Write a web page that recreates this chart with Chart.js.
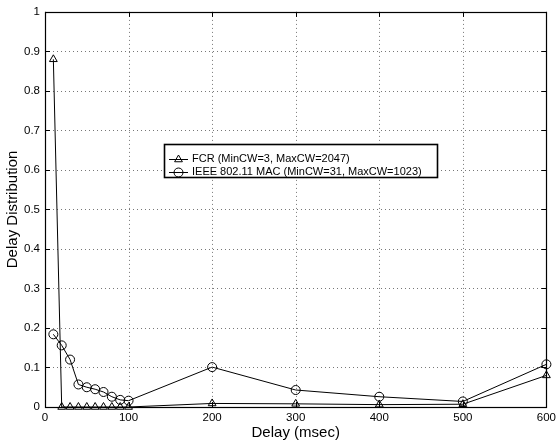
<!DOCTYPE html>
<html><head><meta charset="utf-8">
<script src="https://cdn.jsdelivr.net/npm/chart.js@4/dist/chart.umd.min.js"></script>
<style>html,body{margin:0;padding:0;background:#fff}#wrap{width:560px;height:445px}</style>
</head><body><div id="wrap"><canvas id="c" width="560" height="445"></canvas></div>
<script>
const delays = [10,20,30,40,50,60,70,80,90,100,200,300,400,500,600];
const fcrValues = [0.88,0,0,0,0,0,0,0,0,0,0.009,0.008,0.006,0.007,0.08];
const ieeeValues = [0.184,0.156,0.12,0.057,0.05,0.045,0.038,0.026,0.018,0.016,0.101,0.043,0.026,0.014,0.108];
const xTicks = [0,100,200,300,400,500,600];
const yTicks = [0,0.1,0.2,0.3,0.4,0.5,0.6,0.7,0.8,0.9,1];
const seriesLabels = ['FCR (MinCW=3, MaxCW=2047)','IEEE 802.11 MAC (MinCW=31, MaxCW=1023)'];
const xTitle = 'Delay (msec)';
const yTitle = 'Delay Distribution';

const FONT = '"Liberation Sans", Arial, Helvetica, sans-serif';

const gridPlugin = {
  id: 'gridPlugin',
  beforeDatasetsDraw(chart) {
    const {ctx, chartArea: a, scales: {x, y}} = chart;
    ctx.save();
    ctx.strokeStyle = '#777';
    ctx.lineWidth = 1;
    ctx.setLineDash([1, 3]);
    ctx.beginPath();
    xTicks.forEach(v => {
      const px = Math.round(x.getPixelForValue(v)) + 0.5;
      ctx.moveTo(px, a.top); ctx.lineTo(px, a.bottom);
    });
    yTicks.forEach(v => {
      const py = Math.round(y.getPixelForValue(v)) + 0.5;
      ctx.moveTo(a.left, py); ctx.lineTo(a.right, py);
    });
    ctx.stroke();
    ctx.restore();
  }
};

const boxPlugin = {
  id: 'boxPlugin',
  afterDatasetsDraw(chart) {
    const {ctx, chartArea: a, scales: {x, y}} = chart;
    ctx.save();
    ctx.strokeStyle = '#000';
    ctx.lineWidth = 1;
    ctx.setLineDash([]);
    ctx.beginPath();
    xTicks.forEach(v => {
      const px = Math.round(x.getPixelForValue(v)) + 0.5;
      ctx.moveTo(px, a.bottom); ctx.lineTo(px, a.bottom - 5);
      ctx.moveTo(px, a.top); ctx.lineTo(px, a.top + 5);
    });
    yTicks.forEach(v => {
      const py = Math.round(y.getPixelForValue(v)) + 0.5;
      ctx.moveTo(a.left, py); ctx.lineTo(a.left + 5, py);
      ctx.moveTo(a.right, py); ctx.lineTo(a.right - 5, py);
    });
    ctx.stroke();
    ctx.lineWidth = 1.2;
    ctx.strokeRect(Math.round(a.left) + 0.5, Math.round(a.top) + 0.5, Math.round(a.right - a.left), Math.round(a.bottom - a.top));
    // legend
    const lx = 164.5, ly = 144.5, lw = 273, lh = 33;
    ctx.fillStyle = '#fff';
    ctx.fillRect(lx, ly, lw, lh);
    ctx.lineWidth = 1.6;
    ctx.strokeRect(lx, ly, lw, lh);
    ctx.font = '11px ' + FONT;
    ctx.textBaseline = 'middle';
    ctx.textAlign = 'left';
    const rows = [159, 172];
    chart.data.datasets.forEach((ds, i) => {
      const ry = rows[i] + 0.5;
      ctx.lineWidth = 1;
      ctx.strokeStyle = '#000';
      ctx.beginPath(); ctx.moveTo(169, ry); ctx.lineTo(188, ry); ctx.stroke();
      ctx.fillStyle = 'rgba(255,255,255,0)';
      Chart.helpers.drawPoint(ctx, {pointStyle: ds.pointStyle, radius: ds.pointRadius, borderWidth: 1, rotation: 0}, 178.5, ry);
      ctx.fillStyle = '#000';
      ctx.fillText(ds.label, 192, rows[i]);
    });
    ctx.restore();
  }
};

new Chart(document.getElementById('c'), {
  type: 'line',
  data: {
    datasets: [
      {label: seriesLabels[0], data: delays.map((d,i)=>({x:d, y:fcrValues[i]})), borderColor:'#000', borderWidth:1, pointStyle:'triangle', pointRadius:4.5, pointBackgroundColor:'rgba(255,255,255,0)', pointBorderColor:'#000', pointBorderWidth:1, clip:false, tension:0},
      {label: seriesLabels[1], data: delays.map((d,i)=>({x:d, y:ieeeValues[i]})), borderColor:'#000', borderWidth:1, pointStyle:'circle', pointRadius:4.5, pointBackgroundColor:'rgba(255,255,255,0)', pointBorderColor:'#000', pointBorderWidth:1, clip:false, tension:0}
    ]
  },
  options: {
    responsive: false, animation: false, devicePixelRatio: 1,
    layout: {padding: {top: 10, right: 11, left: 0, bottom: 0}},
    plugins: {legend: {display: false}, tooltip: {enabled: false}},
    scales: {
      x: {
        type: 'linear', min: 0, max: 600,
        afterBuildTicks: s => { s.ticks = xTicks.map(v => ({value: v})); },
        afterFit: s => { s.height = 38; },
        grid: {display: false, drawTicks: false},
        border: {display: false},
        ticks: {color: '#000', padding: 4, font: {family: FONT, size: 11.5}, maxRotation: 0, autoSkip: false, callback: v => String(v)},
        title: {display: true, text: xTitle, color: '#000', font: {family: FONT, size: 15}, padding: {top: 0, bottom: 3}}
      },
      y: {
        type: 'linear', min: 0, max: 1,
        afterBuildTicks: s => { s.ticks = yTicks.map(v => ({value: v})); },
        afterFit: s => { s.width = 45; },
        grid: {display: false, drawTicks: false},
        border: {display: false},
        ticks: {color: '#000', padding: 5, font: {family: FONT, size: 11.5}, autoSkip: false, callback: v => String(Math.round(v*10)/10)},
        title: {display: true, text: yTitle, color: '#000', font: {family: FONT, size: 15}, padding: {top: 4, bottom: 0}}
      }
    }
  },
  plugins: [gridPlugin, boxPlugin]
});
</script></body></html>
